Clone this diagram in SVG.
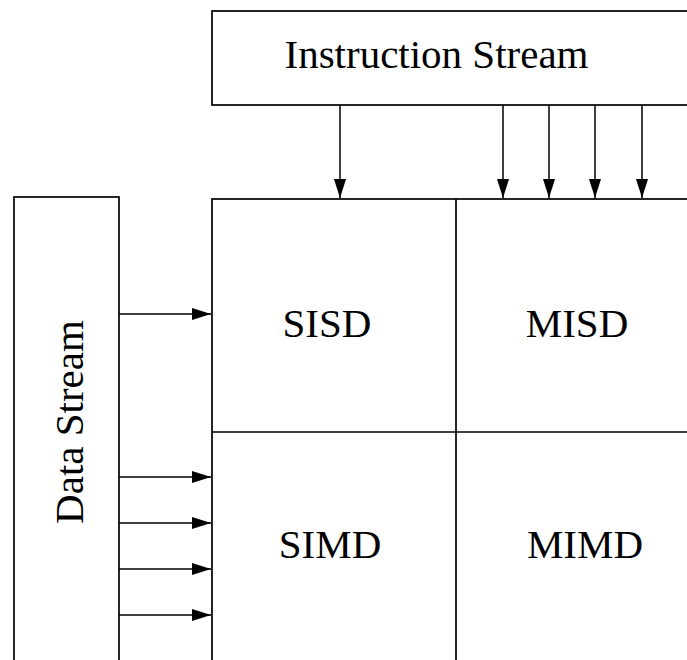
<svg xmlns="http://www.w3.org/2000/svg" width="687" height="660" viewBox="0 0 687 660">
  <defs>
    <style>
      .box { fill: #ffffff; stroke: #000000; stroke-width: 1.7; }
      .lbl { font-family: "Liberation Serif", "Times New Roman", serif; font-size: 41px; fill: #000000; text-anchor: middle; }
      .conn { stroke: #000000; stroke-width: 1.5; fill: none; marker-end: url(#ah); }
    </style>
    <marker id="ah" markerUnits="userSpaceOnUse" markerWidth="19" markerHeight="12" refX="19" refY="6" orient="auto">
      <path d="M0,0 L19,6 L0,12 Z" fill="#000000"/>
    </marker>
  </defs>
  <rect width="687" height="660" fill="#ffffff"/>

  <g id="instruction-stream">
    <rect class="box" x="212" y="11" width="490" height="94"/>
    <text class="lbl" x="436.5" y="68">Instruction Stream</text>
  </g>

  <g id="data-stream">
    <rect class="box" x="14" y="197" width="105" height="480"/>
    <text class="lbl" transform="translate(83,422) rotate(-90)" x="0" y="0">Data Stream</text>
  </g>

  <g id="grid">
    <rect class="box" x="212" y="199" width="490" height="480"/>
    <line x1="456" y1="199" x2="456" y2="665" stroke="#000" stroke-width="1.7"/>
    <line x1="212" y1="432" x2="690" y2="432" stroke="#000" stroke-width="1.7"/>
  </g>

  <g id="sisd"><text class="lbl" x="327" y="337">SISD</text></g>
  <g id="misd"><text class="lbl" x="577" y="337">MISD</text></g>
  <g id="simd"><text class="lbl" x="330" y="558">SIMD</text></g>
  <g id="mimd"><text class="lbl" x="585" y="558">MIMD</text></g>

  <g id="connectors">
    <line class="conn" x1="340" y1="105" x2="340" y2="198"/>
    <line class="conn" x1="503" y1="105" x2="503" y2="198"/>
    <line class="conn" x1="549" y1="105" x2="549" y2="198"/>
    <line class="conn" x1="595" y1="105" x2="595" y2="198"/>
    <line class="conn" x1="642" y1="105" x2="642" y2="198"/>
    <line class="conn" x1="119" y1="314" x2="211" y2="314"/>
    <line class="conn" x1="119" y1="477" x2="211" y2="477"/>
    <line class="conn" x1="119" y1="523" x2="211" y2="523"/>
    <line class="conn" x1="119" y1="569" x2="211" y2="569"/>
    <line class="conn" x1="119" y1="615" x2="211" y2="615"/>
  </g>
</svg>
